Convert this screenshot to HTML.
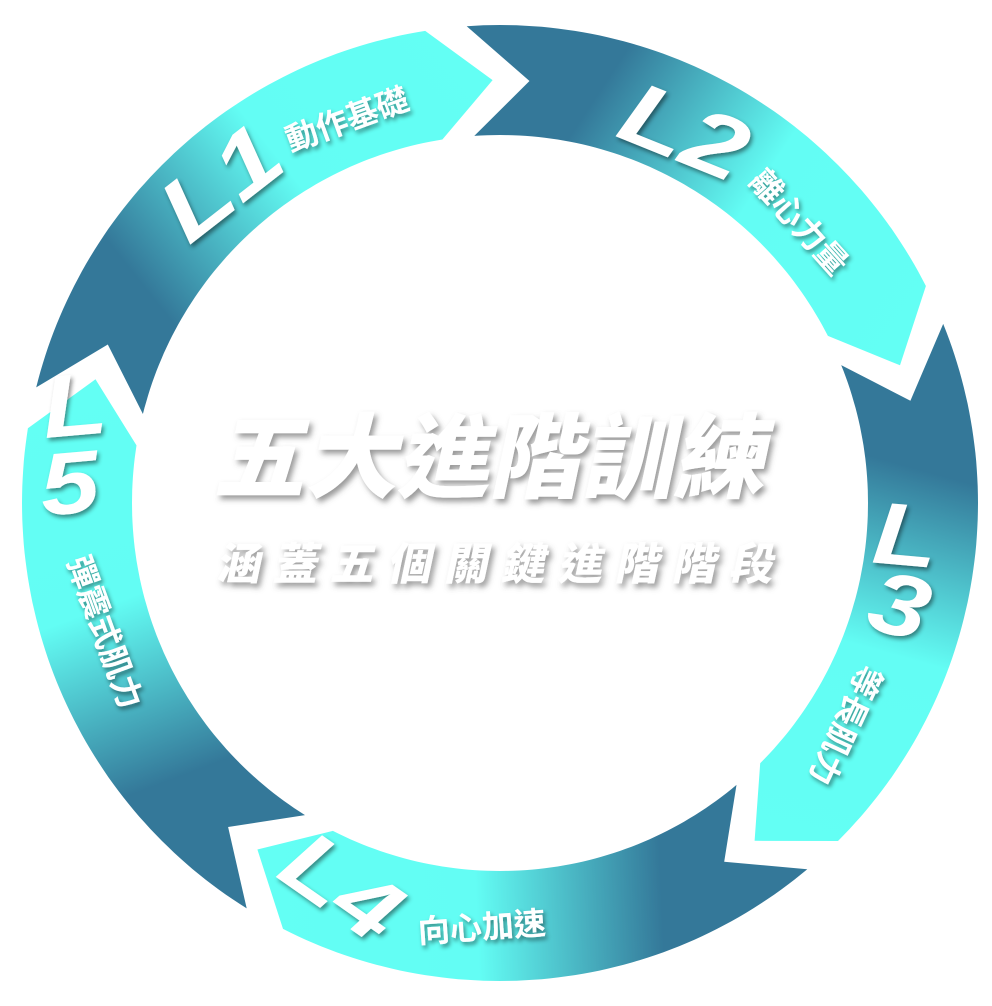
<!DOCTYPE html>
<html><head><meta charset="utf-8"><style>
html,body{margin:0;padding:0;background:#fff;width:992px;height:1006px;overflow:hidden}
svg{display:block}
.L{font-family:"Liberation Sans",sans-serif;font-weight:bold;font-style:italic;fill:#fff;font-size:88px}
.c{font-family:"Liberation Sans","Noto Sans CJK TC",sans-serif;font-weight:bold;fill:#fff;font-size:32px}
.t{font-family:"Liberation Sans","Noto Sans CJK TC",sans-serif;font-weight:900;fill:#fff}
</style></head><body>
<svg id="s" width="992" height="1006" viewBox="0 0 992 1006" xmlns="http://www.w3.org/2000/svg">
<defs>
<filter id="sh" x="-20%" y="-20%" width="140%" height="140%"><feDropShadow dx="2" dy="3" stdDeviation="2" flood-color="#000" flood-opacity="0.45"/></filter>
<filter id="sh2" x="-20%" y="-20%" width="140%" height="140%"><feDropShadow dx="3" dy="4" stdDeviation="3" flood-color="#555" flood-opacity="0.6"/></filter>
</defs>
<g id="segs"></g>
<g filter="url(#sh)">
<text class="L" transform="translate(225,188) rotate(-38) scale(1.25,1)" text-anchor="middle" dominant-baseline="middle">L1</text>
<text class="c" transform="translate(348,122) rotate(-20)" text-anchor="middle" dominant-baseline="middle">動作基礎</text>
<text class="L" transform="translate(682,138) rotate(22) scale(1.25,1)" text-anchor="middle" dominant-baseline="middle">L2</text>
<text class="c" transform="translate(797,224) rotate(48)" text-anchor="middle" dominant-baseline="middle">離心力量</text>
<text class="L" transform="translate(905,542) rotate(5) scale(1.2,1)" text-anchor="middle" dominant-baseline="middle">L</text>
<text class="L" transform="translate(898,612) rotate(15) scale(1.2,1)" text-anchor="middle" dominant-baseline="middle">3</text>
<text class="c" transform="translate(843,724) rotate(115)" text-anchor="middle" dominant-baseline="middle">等長肌力</text>
<text class="L" transform="translate(338,892) rotate(35) scale(1.2,1)" text-anchor="middle" dominant-baseline="middle">L4</text>
<text class="c" transform="translate(482,930) rotate(-4)" text-anchor="middle" dominant-baseline="middle">向心加速</text>
<text class="L" transform="translate(75,412) rotate(-5) scale(1.2,1)" text-anchor="middle" dominant-baseline="middle">L</text>
<text class="L" transform="translate(70,490) rotate(-5) scale(1.2,1)" text-anchor="middle" dominant-baseline="middle">5</text>
<text class="c" transform="translate(102,633) rotate(70)" text-anchor="middle" dominant-baseline="middle">彈震式肌力</text>
</g>
<g filter="url(#sh2)">
<text class="t" font-size="92" transform="translate(494,466) skewX(-12)" text-anchor="middle" dominant-baseline="middle">五大進階訓練</text>
<text class="t" font-size="44" letter-spacing="13" transform="translate(503,568) skewX(-12)" text-anchor="middle" dominant-baseline="middle">涵蓋五個關鍵進階階段</text>
</g>
</svg>
<script>
(function(){
var cx=500,cy=503,RO=478,RI=368,RM=423,D=8;
function P(r,a){a=a*Math.PI/180;return [cx+r*Math.sin(a),cy-r*Math.cos(a)];}
var ns="http://www.w3.org/2000/svg",svg=document.getElementById('s'),defs=svg.querySelector('defs'),g=document.getElementById('segs');
for(var i=0;i<5;i++){
 var s=-4+72*i,e=-4+72*(i+1)-5;
 var pts=[],a;
 for(a=s;a<=e;a+=1)pts.push(P(RO,a));
 pts.push(P(RO,e));pts.push(P(RM,e+D));pts.push(P(RI,e));
 for(a=e;a>=s;a-=1)pts.push(P(RI,a));
 pts.push(P(RI,s));pts.push(P(RM,s+D));
 var d='M'+pts.map(function(p){return p[0].toFixed(1)+' '+p[1].toFixed(1)}).join('L')+'Z';
 var p0=P(RM,s),p1=P(RM,e+D);
 var lg=document.createElementNS(ns,'linearGradient');
 lg.setAttribute('id','g'+i);lg.setAttribute('gradientUnits','userSpaceOnUse');
 lg.setAttribute('x1',p0[0]);lg.setAttribute('y1',p0[1]);lg.setAttribute('x2',p1[0]);lg.setAttribute('y2',p1[1]);
 [[0,'#347899'],[0.22,'#347899'],[0.58,'#63fdf4'],[1,'#63fff4']].forEach(function(st){
  var o=document.createElementNS(ns,'stop');o.setAttribute('offset',st[0]);o.setAttribute('stop-color',st[1]);lg.appendChild(o);});
 defs.appendChild(lg);
 var path=document.createElementNS(ns,'path');path.setAttribute('d',d);path.setAttribute('fill','url(#g'+i+')');
 g.appendChild(path);
}
})();
</script>
</body></html>
